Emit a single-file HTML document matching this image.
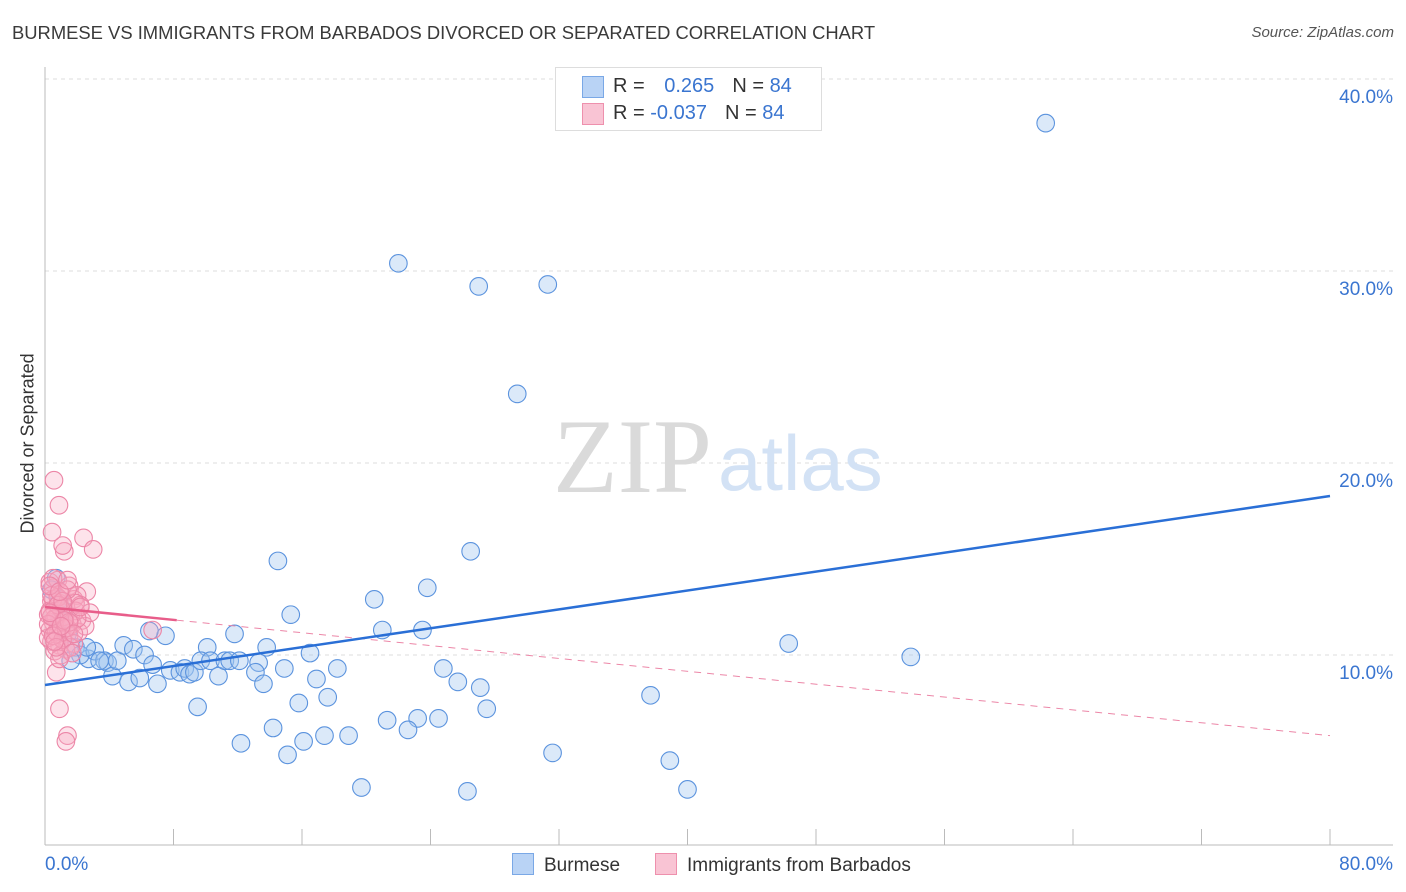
<!DOCTYPE html>
<html><head><meta charset="utf-8"><style>
body{margin:0;background:#fff;font-family:"Liberation Sans",sans-serif;}
#wrap{position:relative;width:1406px;height:892px;overflow:hidden;}
.t{position:absolute;white-space:nowrap;}
</style></head><body>
<div id="wrap">
<div class="t" style="left:12px;top:22px;font-size:18.4px;color:#3a3a3a;">BURMESE VS IMMIGRANTS FROM BARBADOS DIVORCED OR SEPARATED CORRELATION CHART</div>
<div class="t" style="right:12px;top:24px;font-size:15px;color:#555;font-style:italic;">Source: ZipAtlas.com</div>
<div class="t" style="left:-52px;top:443px;font-size:18px;color:#333;transform:rotate(-90deg);width:160px;text-align:center;">Divorced or Separated</div>
<svg id="svg" width="1406" height="892" style="position:absolute;left:0;top:0"></svg>
<div style="position:absolute;left:555px;top:67px;width:265px;height:62px;border:1px solid #ddd;background:#fff;">
 <div style="position:absolute;left:26px;top:8px;width:20px;height:20px;background:#b9d3f5;border:1px solid #7aa8e6;"></div>
 <div style="position:absolute;left:26px;top:35px;width:20px;height:20px;background:#f9c4d4;border:1px solid #ee90ad;"></div>
 <div class="t" style="left:57px;top:7px;font-size:20px;color:#333;">R = <span style="color:#3a75d0;margin-left:14px">0.265</span><span style="margin-left:18px">N = </span><span style="color:#3a75d0">84</span></div>
 <div class="t" style="left:57px;top:34px;font-size:20px;color:#333;">R = <span style="color:#3a75d0">-0.037</span><span style="margin-left:18px">N = </span><span style="color:#3a75d0">84</span></div>
</div>
<div class="t" style="left:512px;top:853px;font-size:19px;color:#333;"><span style="display:inline-block;width:20px;height:20px;background:#b9d3f5;border:1px solid #7aa8e6;vertical-align:-4px;margin-right:10px"></span>Burmese</div>
<div class="t" style="left:655px;top:853px;font-size:19px;color:#333;"><span style="display:inline-block;width:20px;height:20px;background:#f9c4d4;border:1px solid #ee90ad;vertical-align:-4px;margin-right:10px"></span>Immigrants from Barbados</div>
</div>
<script>
const xTicks=[0,8,16,24,32,40,48,56,64,72,80];
const yTicks=[10,20,30,40];
const xLabels=["0.0%","80.0%"];
const blueX=[62.3,22.0,27.0,31.3,29.4,26.5,14.5,23.8,15.3,20.5,21.0,23.5,46.3,53.9,11.8,10.1,13.8,16.5,18.2,24.8,25.7,27.1,27.5,37.7,15.8,17.6,9.5,14.2,21.3,23.2,24.5,22.6,17.4,18.9,16.1,15.1,12.2,31.6,38.9,19.7,26.3,40.0,0.7,0.9,1.4,1.9,2.7,2.2,3.1,3.7,3.9,4.2,4.5,4.9,5.2,5.5,5.9,6.2,6.7,7.0,7.5,7.8,8.4,8.7,9.0,9.3,9.7,10.3,10.8,11.2,11.5,13.3,13.1,13.6,14.9,16.9,6.5,0.9,1.6,3.4,2.6,1.2,0.4,12.1];
const blueY=[37.7,30.4,29.2,29.3,23.6,15.4,14.9,13.5,12.1,12.9,11.3,11.3,10.6,9.9,11.1,10.4,10.4,10.1,9.3,9.3,8.6,8.3,7.2,7.9,7.5,7.8,7.3,6.2,6.6,6.7,6.7,6.1,5.8,5.8,5.5,4.8,5.4,4.9,4.5,3.1,2.9,3.0,14.0,12.9,11.1,10.4,9.8,10.0,10.2,9.7,9.6,8.9,9.7,10.5,8.6,10.3,8.8,10.0,9.5,8.5,11.0,9.2,9.1,9.3,9.0,9.1,9.7,9.7,8.9,9.7,9.7,9.6,9.1,8.5,9.3,8.75,11.25,11.8,9.7,9.7,10.4,12.3,13.4,9.7];
const pinkX=[0.56,0.87,0.44,1.2,1.1,2.4,3.0,2.6,0.7,0.9,1.4,1.3,6.7,0.3,0.5,0.8,1.0,1.5,1.8,2.0,2.2,0.4,0.6,0.9,1.1,1.3,1.6,1.9,2.3,0.2,0.5,0.7,1.0,1.2,1.4,1.7,2.1,0.3,0.6,0.8,1.1,1.5,1.8,0.4,0.9,1.3,0.2,0.6,1.0,1.6,2.5,0.5,0.8,1.2,0.3,0.7,1.1,1.9,0.4,1.0,1.4,0.6,2.8,0.2,0.5,1.7,0.9,1.3,0.3,0.8,2.0,0.5,1.1,0.7,1.5,0.4,0.9,1.2,0.6,2.2,1.8,0.3,1.0,1.4];
const pinkY=[19.1,17.8,16.4,15.4,15.7,16.1,15.5,13.3,9.1,7.2,5.8,5.5,11.3,13.8,13.5,13.9,13.2,13.6,12.9,13.1,12.6,12.8,12.4,12.7,12.2,12.5,12.0,12.3,11.8,12.1,11.7,11.9,11.5,11.8,11.4,11.6,11.2,11.3,11.0,11.1,10.8,11.0,10.6,10.7,10.5,10.3,10.9,10.2,10.0,10.4,11.5,12.9,13.0,12.0,12.3,11.2,10.8,12.7,13.1,12.4,13.4,11.9,12.2,11.6,14.0,10.1,9.8,11.4,13.6,12.6,11.9,11.0,12.8,10.4,11.7,12.0,13.3,11.8,10.7,12.5,11.1,12.2,11.5,13.9];
const blueTrend=[8.44,18.28];
const pinkTrend=[12.5,5.8];
const pinkSolidEnd=8.2;
const NS="http://www.w3.org/2000/svg", svg=document.getElementById('svg');
const X0=45,X1=1330,Y0=847,PY=19.2;
const sx=v=>X0+(v/80)*(X1-X0), sy=v=>Y0-v*PY;
function mk(tag,attrs,name){const e=document.createElementNS(NS,tag);for(const k in attrs)e.setAttribute(k,attrs[k]);


svg.appendChild(e);return e;}
yTicks.forEach(v=>{mk('line',{x1:X0,x2:1393,y1:sy(v),y2:sy(v),stroke:'#dcdcdc','stroke-dasharray':'4,4'},'gridline');
const t=mk('text',{x:1393,y:sy(v)+24,'text-anchor':'end','font-size':19,fill:'#3a75d0','font-family':'Liberation Sans'},'y-tick-label');t.textContent=v.toFixed(1)+'%';});
mk('line',{x1:X0,x2:X0,y1:67,y2:845,stroke:'#bbb'},'y-axis-line');
mk('line',{x1:X0,x2:1393,y1:845,y2:845,stroke:'#bbb'},'x-axis-line');
xTicks.forEach(v=>mk('line',{x1:sx(v),x2:sx(v),y1:829,y2:845,stroke:'#bbb'},'x-tick'));
let t=mk('text',{x:45,y:870,'font-size':19,fill:'#3a75d0','font-family':'Liberation Sans'},'x-tick-label');t.textContent=xLabels[0];
t=mk('text',{x:1393,y:870,'text-anchor':'end','font-size':19,fill:'#3a75d0','font-family':'Liberation Sans'},'x-tick-label');t.textContent=xLabels[1];
t=mk('text',{x:553,y:492,'font-size':106,fill:'#dadada','font-family':'Liberation Serif'},'watermark-zip');t.textContent='ZIP';
t=mk('text',{x:718,y:490,'font-size':78,fill:'#d3e2f5','font-family':'Liberation Sans'},'watermark-atlas');t.textContent='atlas';
blueX.forEach((v,i)=>mk('circle',{cx:sx(v),cy:sy(blueY[i]),r:8.8,fill:'rgba(160,196,240,0.38)',stroke:'#5b93de','stroke-width':1.1},'burmese-point'));
pinkX.forEach((v,i)=>mk('circle',{cx:sx(v),cy:sy(pinkY[i]),r:8.8,fill:'rgba(248,170,195,0.33)',stroke:'#ec86a7','stroke-width':1.1},'barbados-point'));
const pAt=x=>pinkTrend[0]+(pinkTrend[1]-pinkTrend[0])*x/80;
mk('line',{x1:sx(pinkSolidEnd),y1:sy(pAt(pinkSolidEnd)),x2:sx(80),y2:sy(pAt(80)),stroke:'#ec86a7','stroke-width':1,'stroke-dasharray':'7,6'},'barbados-trend-dashed');
mk('line',{x1:sx(0),y1:sy(pAt(0)),x2:sx(pinkSolidEnd),y2:sy(pAt(pinkSolidEnd)),stroke:'#e85d8a','stroke-width':2.5},'barbados-trend');
mk('line',{x1:sx(0),y1:sy(blueTrend[0]),x2:sx(80),y2:sy(blueTrend[1]),stroke:'#2a6fd6','stroke-width':2.5},'burmese-trend');
</script>
</body></html>
